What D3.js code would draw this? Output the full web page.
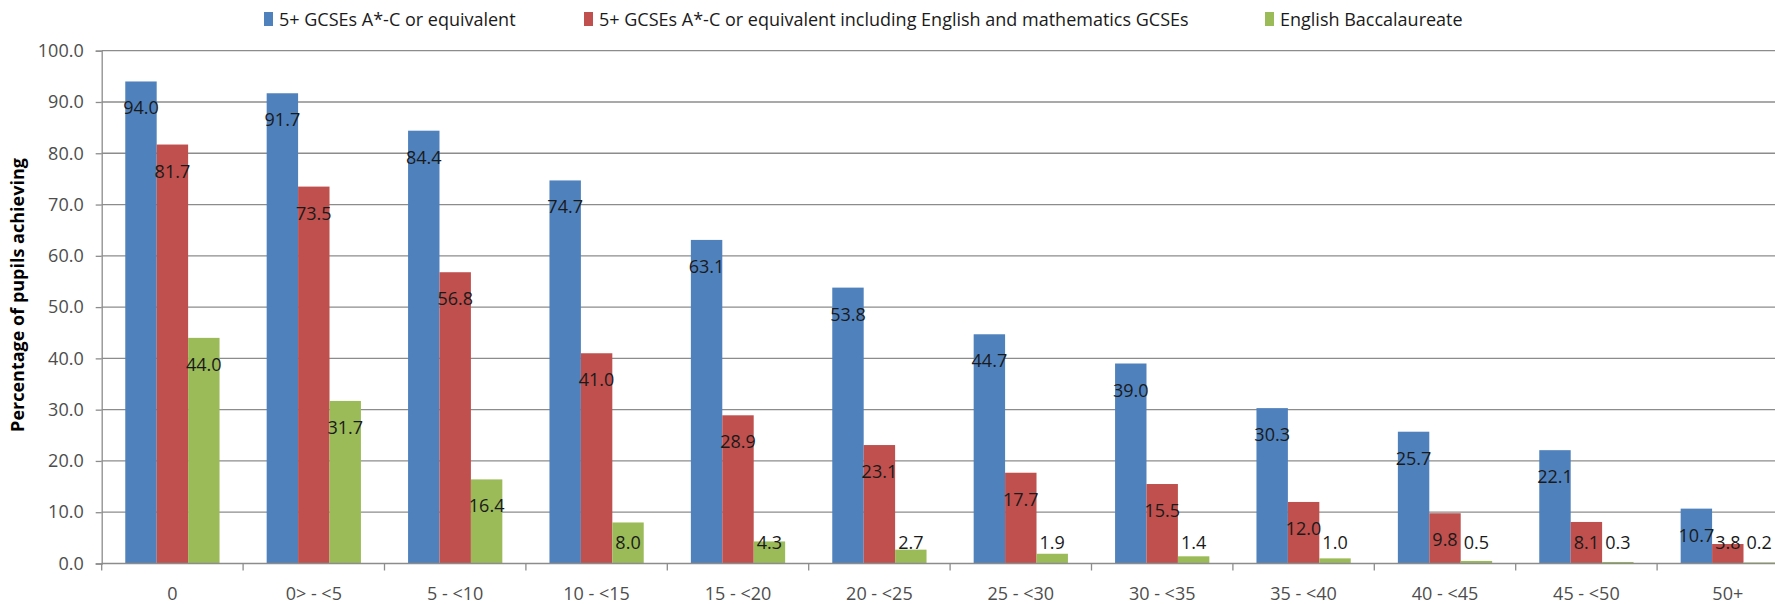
<!DOCTYPE html>
<html>
<head>
<meta charset="utf-8">
<script src="https://cdn.jsdelivr.net/npm/d3@7"></script>
<style>
  body { margin: 0; background: #fff; overflow: hidden; }
  text { font-family: "Open Sans", "Noto Sans", sans-serif; }
</style>
</head>
<body>
<script>
// chart data
const categories = ["0", "0> - <5", "5 - <10", "10 - <15", "15 - <20", "20 - <25",
                    "25 - <30", "30 - <35", "35 - <40", "40 - <45", "45 - <50", "50+"]
const seriesNames = ["5+ GCSEs A*-C or equivalent",
                     "5+ GCSEs A*-C or equivalent including English and mathematics GCSEs",
                     "English Baccalaureate"]
const gcse5 = [94.0, 91.7, 84.4, 74.7, 63.1, 53.8, 44.7, 39.0, 30.3, 25.7, 22.1, 10.7]
const gcse5EngMaths = [81.7, 73.5, 56.8, 41.0, 28.9, 23.1, 17.7, 15.5, 12.0, 9.8, 8.1, 3.8]
const ebacc = [44.0, 31.7, 16.4, 8.0, 4.3, 2.7, 1.9, 1.4, 1.0, 0.5, 0.3, 0.2]
const yTicks = [0, 10, 20, 30, 40, 50, 60, 70, 80, 90, 100]
const colors = ["#4f81bd", "#c0504d", "#9bbb59"]

const width = 1775
const height = 604
const plotLeft = 101.7
const step = 141.4   // width of one category band
const plotRight = plotLeft + step * categories.length   // runs past the window edge
const yTop = 50.7
const yBottom = 563.5

const svg = d3.select("body").append("svg")
    .attr("width", width)
    .attr("height", height)

const x = d3.scaleBand().domain(categories).range([plotLeft, plotRight]).padding(0)
const xInner = d3.scaleBand().domain(d3.range(3)).range([0, x.bandwidth()])
    .paddingInner(0).paddingOuter(0.75)
const y = d3.scaleLinear().domain([0, 100]).range([yBottom, yTop])

// gridlines
svg.append("g")
    .selectAll("line")
    .data(yTicks.filter(d => d > 0))
    .join("line")
    .attr("x1", plotLeft).attr("x2", plotRight)
    .attr("y1", d => y(d)).attr("y2", d => y(d))
    .attr("stroke", "#8c8c8c")
    .attr("stroke-width", 1.3)

// y axis
const yAxis = svg.append("g")
    .attr("transform", `translate(${plotLeft},0)`)
    .call(d3.axisLeft(y).tickValues(yTicks).tickFormat(d3.format(".1f")).tickSize(6).tickPadding(12))
yAxis.select(".domain").attr("stroke", "#8c8c8c").attr("stroke-width", 1.3)
yAxis.selectAll(".tick line").attr("stroke", "#8c8c8c").attr("stroke-width", 1.3)
yAxis.selectAll(".tick text")
    .attr("fill", "#4d4d4d")
    .style("font-size", "18px")

// bars
const rows = [gcse5, gcse5EngMaths, ebacc]
const bars = []
rows.forEach((vals, s) => vals.forEach((v, i) => bars.push({cat: categories[i], s: s, v: v})))

svg.append("g")
    .selectAll("rect")
    .data(bars)
    .join("rect")
    .attr("x", d => x(d.cat) + xInner(d.s))
    .attr("width", xInner.bandwidth())
    .attr("y", d => y(d.v))
    .attr("height", d => y(0) - y(d.v))
    .attr("fill", d => colors[d.s])

// x axis (category labels and boundary ticks)
svg.append("line")
    .attr("x1", plotLeft).attr("x2", plotRight)
    .attr("y1", y(0)).attr("y2", y(0))
    .attr("stroke", "#8c8c8c").attr("stroke-width", 1.3)
svg.append("g")
    .selectAll("line")
    .data(d3.range(categories.length + 1))
    .join("line")
    .attr("x1", i => plotLeft + i * x.step()).attr("x2", i => plotLeft + i * x.step())
    .attr("y1", y(0)).attr("y2", y(0) + 7)
    .attr("stroke", "#8c8c8c").attr("stroke-width", 1.3)
svg.append("g")
    .selectAll("text")
    .data(categories)
    .join("text")
    .attr("x", d => x(d) + x.bandwidth() / 2)
    .attr("y", 593)
    .attr("text-anchor", "middle")
    .attr("dominant-baseline", "central")
    .attr("fill", "#4d4d4d")
    .style("font-size", "18px")
    .text(d => d)

// data labels, a little below the top of each bar
svg.append("g")
    .selectAll("text")
    .data(bars)
    .join("text")
    .attr("x", d => x(d.cat) + xInner(d.s) + xInner.bandwidth() / 2)
    .attr("y", d => Math.min(y(d.v) + 26, y(0) - 22))
    .attr("text-anchor", "middle")
    .attr("dominant-baseline", "central")
    .attr("fill", "#1a1a1a")
    .style("font-size", "18px")
    .text(d => d.v.toFixed(1))

// y axis title
svg.append("text")
    .attr("transform", `translate(17,295) rotate(-90)`)
    .attr("text-anchor", "middle")
    .attr("dominant-baseline", "central")
    .attr("fill", "#000")
    .style("font-size", "18px")
    .style("font-weight", "bold")
    .text("Percentage of pupils achieving")

// legend
const legendX = [264, 584, 1265]
const legend = svg.append("g")
    .selectAll("g")
    .data(seriesNames)
    .join("g")
    .attr("transform", (d, i) => `translate(${legendX[i]},19)`)
legend.append("rect")
    .attr("x", 0).attr("y", -7)
    .attr("width", 9).attr("height", 14)
    .attr("fill", (d, i) => colors[i])
legend.append("text")
    .attr("x", 15)
    .attr("dominant-baseline", "central")
    .attr("fill", "#1a1a1a")
    .style("font-size", "18px")
    .text(d => d)
</script>
</body>
</html>
